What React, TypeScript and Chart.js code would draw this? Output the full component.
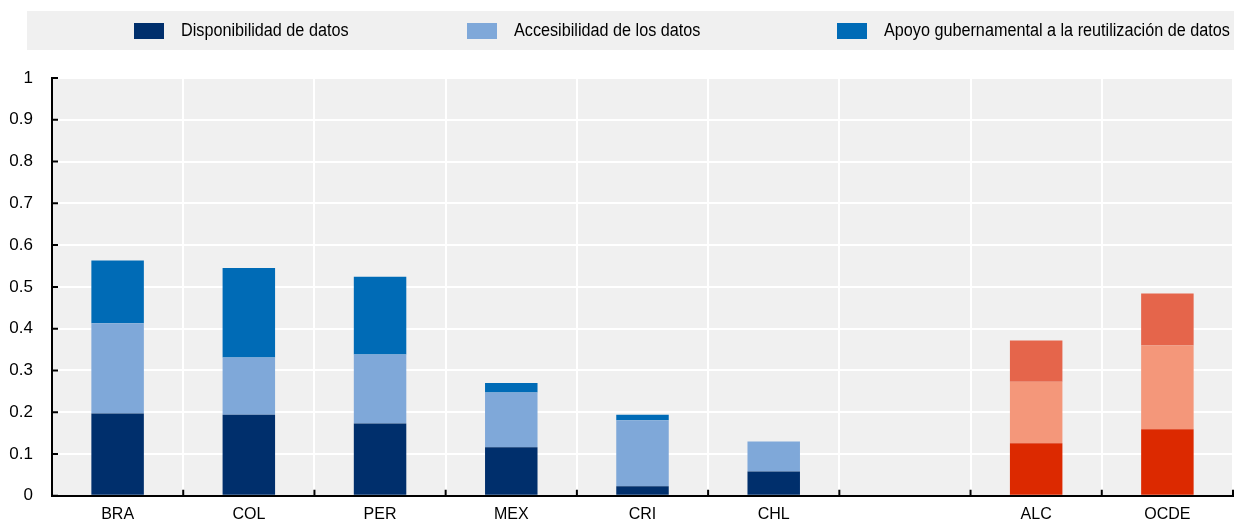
import React, { useEffect, useRef } from 'react';
import { Chart, registerables } from 'chart.js';

Chart.register(...registerables);

const categories = ['BRA', 'COL', 'PER', 'MEX', 'CRI', 'CHL', '', 'ALC', 'OCDE'];
const aggregateCategories = ['ALC', 'OCDE'];
const disponibilidad = [0.197, 0.194, 0.173, 0.116, 0.023, 0.058, null, 0.126, 0.159];
const accesibilidad = [0.216, 0.137, 0.165, 0.131, 0.158, 0.072, null, 0.147, 0.201];
const apoyo = [0.15, 0.214, 0.186, 0.023, 0.013, 0, null, 0.099, 0.124];
const seriesLabels = [
  'Disponibilidad de datos',
  'Accesibilidad de los datos',
  'Apoyo gubernamental a la reutilización de datos',
];
const yTickValues = [0, 0.1, 0.2, 0.3, 0.4, 0.5, 0.6, 0.7, 0.8, 0.9, 1];
const yTickLabels = ['0', '0.1', '0.2', '0.3', '0.4', '0.5', '0.6', '0.7', '0.8', '0.9', '1'];
const countryColors = ['#002F6C', '#7FA8D9', '#006BB6'];
const aggregateColors = ['#DC2900', '#F4977A', '#E5654B'];

const family = "'Liberation Sans', Arial, sans-serif";

export default function App() {
  const ref = useRef<HTMLCanvasElement | null>(null);

  useEffect(() => {
    document.body.style.margin = '0';
    document.body.style.overflow = 'hidden';
    const canvas = ref.current;
    if (!canvas) return;

    const colorsFor = (k: number) =>
      categories.map((c) => (aggregateCategories.includes(c) ? aggregateColors[k] : countryColors[k]));

    const series = [disponibilidad, accesibilidad, apoyo];

    const bgPlugin = {
      id: 'bgAndLegend',
      beforeDraw(chart: any) {
        const { ctx, chartArea, width } = chart;
        ctx.save();
        ctx.fillStyle = '#F0F0F0';
        ctx.fillRect(chartArea.left, chartArea.top, chartArea.right - chartArea.left, chartArea.bottom - chartArea.top);
        // legend box
        ctx.fillRect(27, 11, width - 27, 39);
        const boxX = [134, 467, 837];
        ctx.font = `18px ${family}`;
        ctx.textBaseline = 'middle';
        ctx.textAlign = 'left';
        for (let k = 0; k < seriesLabels.length; k++) {
          ctx.fillStyle = countryColors[k];
          ctx.fillRect(boxX[k], 23, 30, 16);
          ctx.fillStyle = '#000';
          ctx.save();
          ctx.translate(boxX[k] + 47, 31.5);
          ctx.scale(0.9, 1);
          ctx.fillText(seriesLabels[k], 0, 0);
          ctx.restore();
        }
        ctx.restore();
      },
      afterDraw(chart: any) {
        const { ctx, chartArea } = chart;
        const xs = chart.scales.x;
        const ys = chart.scales.y;
        ctx.save();
        ctx.strokeStyle = '#000';
        ctx.lineWidth = 2;
        ctx.beginPath();
        for (const t of ys.ticks) {
          const y = ys.getPixelForValue(t.value);
          ctx.moveTo(chartArea.left, y);
          ctx.lineTo(chartArea.left + 6, y);
        }
        for (let i = 0; i <= categories.length; i++) {
          const x = xs.getPixelForValue(i - 0.5);
          ctx.moveTo(x, chartArea.bottom);
          ctx.lineTo(x, chartArea.bottom - 6);
        }
        ctx.stroke();
        ctx.restore();
      },
    };

    const chart = new Chart(canvas, {
      type: 'bar',
      data: {
        labels: categories,
        datasets: series.map((d, k) => ({
          label: seriesLabels[k],
          data: d,
          backgroundColor: colorsFor(k),
          borderWidth: 0,
          barPercentage: 0.4,
          categoryPercentage: 1.0,
        })),
      },
      options: {
        responsive: false,
        animation: false,
        layout: { padding: { top: 78, left: 0, right: 1, bottom: 0 } },
        plugins: {
          legend: { display: false },
          tooltip: { enabled: false },
        },
        scales: {
          x: {
            stacked: true,
            grid: { color: '#FFFFFF', lineWidth: 2, drawTicks: false, offset: true },
            border: { color: '#000', width: 2 },
            ticks: {
              padding: 9,
              color: '#000',
              autoSkip: false,
              maxRotation: 0,
              font: { family, size: 16 },
            },
            afterFit(s: any) {
              s.height = 25;
            },
          },
          y: {
            stacked: true,
            min: 0,
            max: 1,
            afterBuildTicks(s: any) {
              s.ticks = yTickValues.map((v) => ({ value: v }));
            },
            ticks: {
              padding: 19,
              color: '#000',
              font: { family, size: 17 },
              callback: (_v: any, i: number) => yTickLabels[i],
            },
            grid: { color: '#FFFFFF', lineWidth: 2, drawTicks: false },
            border: { color: '#000', width: 2 },
            afterFit(s: any) {
              s.width = 52;
            },
          },
        },
      },
      plugins: [bgPlugin],
    } as any);

    return () => chart.destroy();
  }, []);

  return (
    <div style={{ width: 1234, height: 525, overflow: 'hidden' }}>
      <canvas ref={ref} width={1234} height={525} style={{ display: 'block' }} />
    </div>
  );
}
